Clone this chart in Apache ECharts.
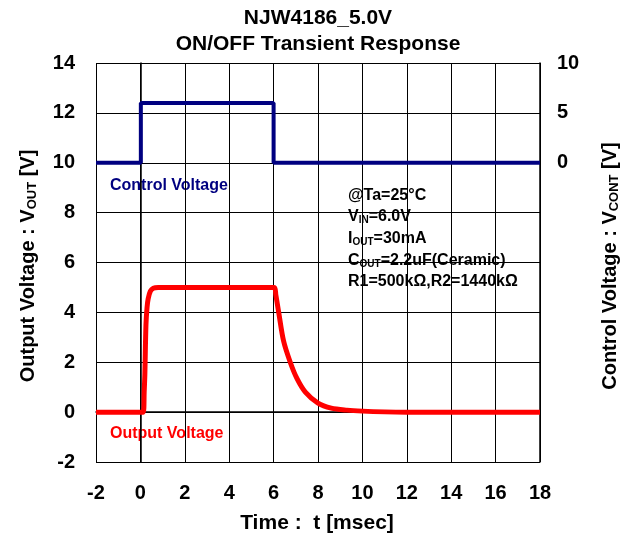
<!DOCTYPE html>
<html>
<head>
<meta charset="utf-8">
<script src="https://cdn.jsdelivr.net/npm/echarts@6/dist/echarts.min.js"></script>
<style>html,body{margin:0;padding:0;background:#fff}#c{width:631px;height:538px}</style>
</head>
<body>
<div id="c"></div>
<script>
// time [msec]
const xTicks = [-2, 0, 2, 4, 6, 8, 10, 12, 14, 16, 18];
const leftTicks = [-2, 0, 2, 4, 6, 8, 10, 12, 14];
const rightTicks = [0, 5, 10];
// Output voltage (t [ms], V)
const outT = [-2, 0.13, 0.17, 0.2, 0.25, 0.3, 0.35, 0.45, 0.58, 0.8, 6.03, 6.1, 6.23, 6.45, 6.75, 7.05, 7.43, 8.0, 8.6, 9.3, 10, 11, 12, 18];
const outV = [0, 0, 0.8, 1.5, 3.5, 4.2, 4.55, 4.85, 4.97, 5.0, 5.0, 4.7, 4.0, 2.85, 2.0, 1.35, 0.8, 0.36, 0.16, 0.08, 0.04, 0.01, 0, 0];
// Control voltage (t [ms], V)
const ctlT = [-2, 0.02, 0.02, 6.0, 6.0, 18];
const ctlV = [0, 0, 6.0, 6.0, 0, 0];

const FONT = 'Liberation Sans';
const chart = echarts.init(document.getElementById('c'));
const tickLabel = {color: '#000', fontFamily: FONT, fontWeight: 'bold', fontSize: 20};
const sub = (big, small) => ({a: {font: 'bold ' + big + 'px ' + FONT, fill: '#000'}, s: {font: 'bold ' + small + 'px ' + FONT, fill: '#000', padding: [Math.round(big * 0.45), 0, 0, 0]}});
chart.setOption({
  animation: false,
  grid: {left: 96, right: 91, top: 63, bottom: 76},
  xAxis: {
    type: 'value', min: xTicks[0], max: xTicks[xTicks.length - 1], interval: 2,
    axisLine: {lineStyle: {color: '#000', width: 1.5}},
    axisTick: {show: false},
    axisLabel: Object.assign({margin: 21}, tickLabel),
    splitLine: {show: true, lineStyle: {color: '#000', width: 1}}
  },
  yAxis: [{
    type: 'value', min: leftTicks[0], max: leftTicks[leftTicks.length - 1], interval: 2,
    axisLine: {show: true, lineStyle: {color: '#000', width: 1.5}},
    axisTick: {show: false},
    axisLabel: Object.assign({margin: 21}, tickLabel),
    splitLine: {show: true, lineStyle: {color: '#000', width: 1}}
  }, {
    type: 'value', min: -30, max: rightTicks[rightTicks.length - 1], interval: 5,
    position: 'right',
    axisLine: {show: true, lineStyle: {color: '#000', width: 1.5}},
    axisTick: {show: false},
    axisLabel: Object.assign({margin: 17, formatter: v => rightTicks.indexOf(v) >= 0 ? String(v) : ''}, tickLabel),
    splitLine: {show: false}
  }],
  series: [{
    type: 'line', yAxisIndex: 1, showSymbol: false, symbol: 'none',
    data: ctlT.map((t, i) => [t, ctlV[i]]),
    lineStyle: {color: '#000080', width: 4},
    z: 3
  }, {
    type: 'line', yAxisIndex: 0, showSymbol: false, symbol: 'none', smooth: 0.3,
    data: outT.map((t, i) => [t, outV[i]]),
    lineStyle: {color: '#ff0000', width: 5},
    z: 4
  }],
  graphic: [
    {type: 'text', x: 318, y: 18, style: {text: 'NJW4186_5.0V', font: 'bold 21px ' + FONT, fill: '#000', align: 'center', verticalAlign: 'middle'}},
    {type: 'text', x: 318, y: 44, style: {text: 'ON/OFF Transient Response', font: 'bold 21px ' + FONT, fill: '#000', align: 'center', verticalAlign: 'middle'}},
    {type: 'text', x: 317, y: 523, style: {text: 'Time :  t [msec]', font: 'bold 21px ' + FONT, fill: '#000', align: 'center', verticalAlign: 'middle'}},
    {type: 'text', x: 28, y: 266, rotation: Math.PI / 2, style: {
      text: '{a|Output Voltage : V}{s|OUT}{a| [V]}', align: 'center', verticalAlign: 'middle', rich: sub(20, 13)
    }},
    {type: 'text', x: 610, y: 266, rotation: Math.PI / 2, style: {
      text: '{a|Control Voltage : V}{s|CONT}{a| [V]}', align: 'center', verticalAlign: 'middle', rich: sub(20, 13)
    }},
    {type: 'text', x: 110, y: 186, style: {text: 'Control Voltage', font: 'bold 16px ' + FONT, fill: '#000080', verticalAlign: 'middle'}},
    {type: 'text', x: 110, y: 434, style: {text: 'Output Voltage', font: 'bold 16px ' + FONT, fill: '#ff0000', verticalAlign: 'middle'}},
    {type: 'text', x: 348, y: 196, style: {text: '@Ta=25°C', font: 'bold 16px ' + FONT, fill: '#000', verticalAlign: 'middle'}},
    {type: 'text', x: 348, y: 217, style: {text: '{a|V}{s|IN}{a|=6.0V}', verticalAlign: 'middle', rich: sub(16, 10)}},
    {type: 'text', x: 348, y: 239, style: {text: '{a|I}{s|OUT}{a|=30mA}', verticalAlign: 'middle', rich: sub(16, 10)}},
    {type: 'text', x: 348, y: 261, style: {text: '{a|C}{s|OUT}{a|=2.2uF(Ceramic)}', verticalAlign: 'middle', rich: sub(16, 10)}},
    {type: 'text', x: 348, y: 282, style: {text: 'R1=500kΩ,R2=1440kΩ', font: 'bold 16px ' + FONT, fill: '#000', verticalAlign: 'middle'}}
  ]
});
</script>
</body>
</html>
